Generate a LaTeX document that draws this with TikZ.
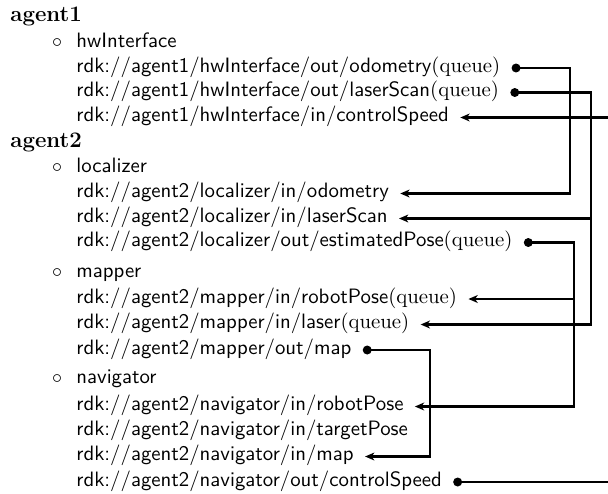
\documentclass[tikz,border=0pt]{standalone}
\usetikzlibrary{arrows.meta}
\begin{document}
\begin{tikzpicture}[x=0.5pt,y=-0.5pt,
  head/.style={anchor=base west, inner sep=0pt, font=\fontsize{11.1}{13}\selectfont\bfseries},
  bul/.style={anchor=base, inner sep=0pt, font=\fontsize{10.4}{12}\selectfont},
  item/.style={anchor=base west, inner sep=0pt, font=\fontsize{10.4}{12}\selectfont\sffamily},
  port/.style={anchor=base west, inner ysep=0pt, inner xsep=5.5pt,
    text height=6.5pt, text depth=2.5pt, font=\fontsize{10.4}{12}\selectfont\sffamily},
  wire/.style={line width=1.1pt},
  dot/.tip={Circle[length=4.4pt]},
  tip/.tip={Stealth[length=4.6pt,width=3.9pt,inset=1.3pt]},
  src/.style={wire, dot-},
  dst/.style={wire, -tip},
  link/.style={wire, dot-tip}
]
\path[use as bounding box] (0,0) rectangle (608,493);

% agent1
\node[head] (ag1) at (10,21) {agent1};
\node[bul] (bhw) at (57,47) {$\circ$};
\node[item] (hw) at (76,47) {hwInterface};
\node[port] (hwOdo) at (65,72) {rdk://agent1/hwInterface/out/odometry\textrm{(queue)}};
\node[port] (hwScan) at (65,96.5) {rdk://agent1/hwInterface/out/laserScan\textrm{(queue)}};
\node[port] (hwSpd) at (65,121.5) {rdk://agent1/hwInterface/in/controlSpeed};

% agent2
\node[head] (ag2) at (10,147) {agent2};
\node[bul] (bloc) at (57,172.5) {$\circ$};
\node[item] (loc) at (76,172.5) {localizer};
\node[port] (locOdo) at (65,197.5) {rdk://agent2/localizer/in/odometry};
\node[port] (locScan) at (65,222.5) {rdk://agent2/localizer/in/laserScan};
\node[port] (locPose) at (65,246.5) {rdk://agent2/localizer/out/estimatedPose\textrm{(queue)}};

\node[bul] (bmap) at (57,277) {$\circ$};
\node[item] (map) at (76,277) {mapper};
\node[port] (mapPose) at (65,303) {rdk://agent2/mapper/in/robotPose\textrm{(queue)}};
\node[port] (mapLaser) at (65,328.5) {rdk://agent2/mapper/in/laser\textrm{(queue)}};
\node[port] (mapOut) at (65,354) {rdk://agent2/mapper/out/map};

\node[bul] (bnav) at (57,383.5) {$\circ$};
\node[item] (nav) at (76,383.5) {navigator};
\node[port] (navPose) at (65,410.5) {rdk://agent2/navigator/in/robotPose};
\node[port] (navTarget) at (65,435.5) {rdk://agent2/navigator/in/targetPose};
\node[port] (navMap) at (65,460.5) {rdk://agent2/navigator/in/map};
\node[port] (navSpd) at (65,486) {rdk://agent2/navigator/out/controlSpeed};

% vertical bus lines and the right border
\coordinate (busOdo) at (570,0);
\coordinate (busScan) at (591,0);
\coordinate (busPose) at (574,0);
\coordinate (busMap) at (430,0);
\coordinate (edge) at (608,0);

% odometry
\draw[link] (hwOdo.east) -| (busOdo |- locOdo.east) -- (locOdo.east);
% laser scan
\draw[link] (hwScan.east) -| (busScan |- mapLaser.east) -- (mapLaser.east);
\draw[dst] (busScan |- locScan.east) -- (locScan.east);
% estimated pose
\draw[link] (locPose.east) -| (busPose |- navPose.east) -- (navPose.east);
\draw[dst] (busPose |- mapPose.east) -- (mapPose.east);
% map
\draw[link] (mapOut.east) -| (busMap |- navMap.east) -- (navMap.east);
% control speed
\draw[dst] (edge |- hwSpd.east) -- (hwSpd.east);
\draw[src] (navSpd.east) -- (edge |- navSpd.east);
\end{tikzpicture}
\end{document}
